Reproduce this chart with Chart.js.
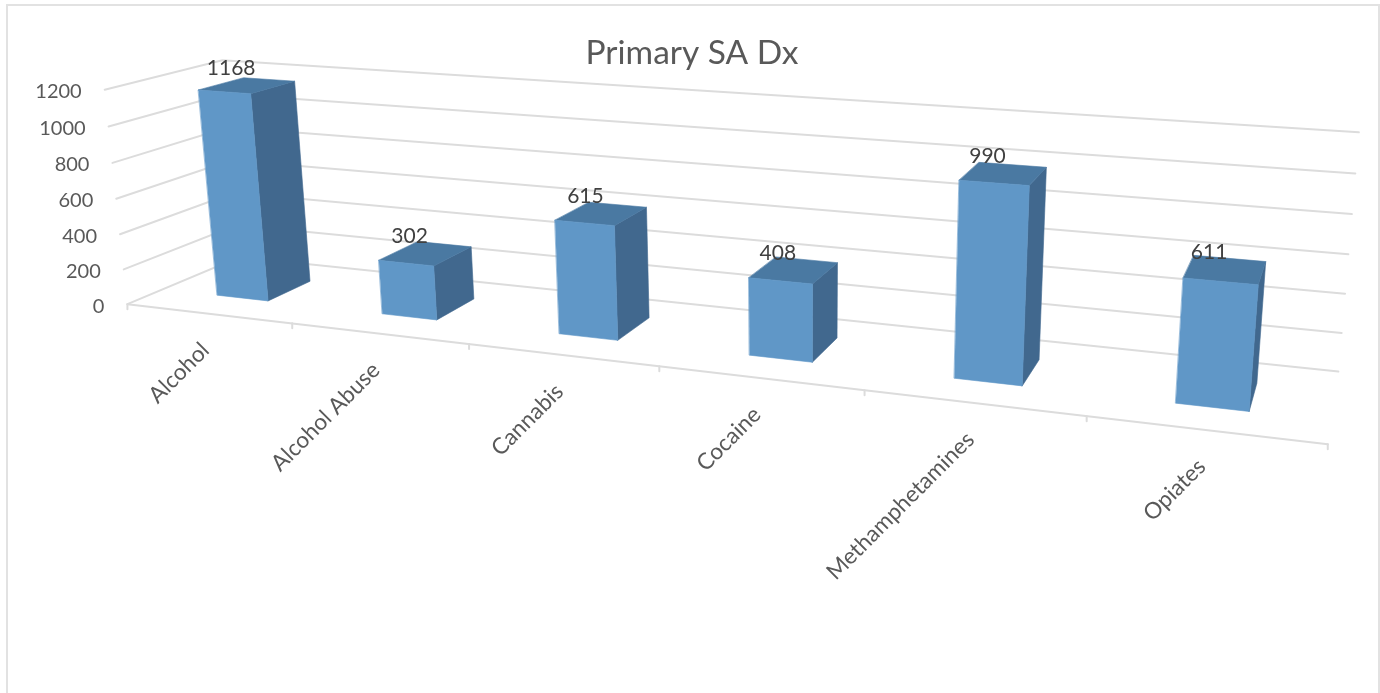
<!DOCTYPE html>
<html>
<head>
<meta charset="utf-8">
<title>Primary SA Dx</title>
<script src="https://cdn.jsdelivr.net/npm/chart.js@4"></script>
<style>
  html, body { margin: 0; background: #fff; overflow: hidden; }
  #frame { position: absolute; left: 6px; top: 4px; width: 1370px; height: 700px; border: 2px solid #e2e2e2; }
  #wrap { position: absolute; left: 0; top: 0; width: 1380px; height: 693px; }
</style>
</head>
<body>
<div id="frame"></div>
<div id="wrap"><canvas id="myChart" width="1380" height="693"></canvas></div>
<script>
const categories = ["Alcohol", "Alcohol Abuse", "Cannabis", "Cocaine", "Methamphetamines", "Opiates"];
const primaryValues = [1168, 302, 615, 408, 990, 611];
const axisMax = 1200;
const axisStep = 200;

// box corners of the 3D plot: [across, up, depth] -> picture position
const viewPoints = [
  [[0, 0, 0], [126, 305]],
  [[0, 1, 0], [106, 90]],
  [[0, 0, 1], [241, 256]],
  [[0, 1, 1], [221, 60.5]],
  [[1, 0, 1], [1338, 373]],
  [[1, 1, 1], [1359, 132]],
  [[1, 0, 0], [1328, 443]],
];
const barDepth = [0.3, 0.7];

// least squares fit of a 3x4 camera matrix
function fitCamera(points) {
  const n = 11;
  const A = [];
  for (let i = 0; i < n; i++) A.push(new Array(n + 1).fill(0));
  function addRow(row, rhs) {
    for (let i = 0; i < n; i++) {
      for (let j = 0; j < n; j++) A[i][j] += row[i] * row[j];
      A[i][n] += row[i] * rhs;
    }
  }
  points.forEach(([w, p]) => {
    const [u, v, d] = w;
    addRow([u, v, d, 1, 0, 0, 0, 0, -p[0] * u, -p[0] * v, -p[0] * d], p[0]);
    addRow([0, 0, 0, 0, u, v, d, 1, -p[1] * u, -p[1] * v, -p[1] * d], p[1]);
  });
  for (let c = 0; c < n; c++) {
    let best = c;
    for (let r = c + 1; r < n; r++) if (Math.abs(A[r][c]) > Math.abs(A[best][c])) best = r;
    [A[c], A[best]] = [A[best], A[c]];
    for (let r = 0; r < n; r++) {
      if (r === c) continue;
      const f = A[r][c] / A[c][c];
      for (let k = c; k <= n; k++) A[r][k] -= f * A[c][k];
    }
  }
  return A.map((row, i) => row[n] / row[i]);
}

const cam = fitCamera(viewPoints);
function project(u, v, d) {
  const h = cam[8] * u + cam[9] * v + cam[10] * d + 1;
  return {
    x: (cam[0] * u + cam[1] * v + cam[2] * d + cam[3]) / h,
    y: (cam[4] * u + cam[5] * v + cam[6] * d + cam[7]) / h,
  };
}

function face(ctx, pts, color) {
  ctx.beginPath();
  pts.forEach((p, i) => (i ? ctx.lineTo(p.x, p.y) : ctx.moveTo(p.x, p.y)));
  ctx.closePath();
  ctx.fillStyle = color;
  ctx.strokeStyle = color;
  ctx.lineWidth = 0.6;
  ctx.fill();
  ctx.stroke();
}

function polyline(ctx, pts) {
  ctx.beginPath();
  pts.forEach((p, i) => (i ? ctx.lineTo(p.x, p.y) : ctx.moveTo(p.x, p.y)));
  ctx.stroke();
}

const perspectiveBars = {
  id: "perspectiveBars",
  afterDatasetsDraw(chart) {
    const ctx = chart.ctx;
    const area = chart.chartArea;
    const yScale = chart.scales.y;
    const xScale = chart.scales.x;
    const toU = (px) => (px - area.left) / area.width;
    const toV = (py) => (area.bottom - py) / area.height;

    ctx.save();
    // grid on side wall and back wall
    ctx.lineCap = "round";
    yScale.ticks.forEach((t, i) => {
      const v = toV(yScale.getPixelForTick(i));
      ctx.strokeStyle = "#dcdcdc";
      ctx.lineWidth = 2;
      polyline(ctx, [project(0, v, 0), project(0, v, 1), project(1, v, 1)]);
      const end = project(0, v, 0);
      ctx.fillStyle = "#595959";
      ctx.font = "20px Lato";
      ctx.textAlign = "right";
      ctx.textBaseline = "middle";
      ctx.fillText(String(t.value), end.x - 23, end.y + 2);
    });

    // front floor edge and its ticks
    ctx.strokeStyle = "#dcdcdc";
    ctx.lineWidth = 2;
    polyline(ctx, [project(0, 0, 0), project(1, 0, 0)]);
    for (let i = 0; i <= categories.length; i++) {
      const p = project(i / categories.length, 0, 0);
      polyline(ctx, [p, { x: p.x, y: p.y + 5 }]);
    }

    // category labels
    categories.forEach((name, i) => {
      const p = project(toU(xScale.getPixelForTick(i)), 0, 0);
      ctx.save();
      ctx.translate(p.x - 3, p.y + 33);
      ctx.rotate(-Math.PI / 4);
      ctx.fillStyle = "#595959";
      ctx.font = "22.6px Lato";
      ctx.textAlign = "right";
      ctx.textBaseline = "middle";
      ctx.fillText(name, 0, 0);
      ctx.restore();
    });

    // bars, front/top/side faces
    const meta = chart.getDatasetMeta(0);
    meta.data.forEach((bar) => {
      const u0 = toU(bar.x - bar.width / 2);
      const u1 = toU(bar.x + bar.width / 2);
      const v0 = toV(bar.base);
      const v1 = toV(bar.y);
      const [d0, d1] = barDepth;
      face(ctx, [project(u1, v0, d0), project(u1, v0, d1), project(u1, v1, d1), project(u1, v1, d0)], "#41688e");
      face(ctx, [project(u0, v1, d0), project(u1, v1, d0), project(u1, v1, d1), project(u0, v1, d1)], "#4a79a2");
      face(ctx, [project(u0, v0, d0), project(u1, v0, d0), project(u1, v1, d0), project(u0, v1, d0)], "#6097c7");
    });

    // value labels sit over the top face
    meta.data.forEach((bar, i) => {
      const c = project(toU(bar.x), toV(bar.y), (barDepth[0] + barDepth[1]) / 2);
      ctx.fillStyle = "#404040";
      ctx.font = "21px Lato";
      ctx.textAlign = "center";
      ctx.textBaseline = "middle";
      ctx.fillText(String(primaryValues[i]), c.x - 16, c.y - 17);
    });
    ctx.restore();
  },
};

const ctx = document.getElementById("myChart").getContext("2d");
new Chart(ctx, {
  type: "bar",
  data: {
    labels: categories,
    datasets: [
      {
        label: "Primary SA Dx",
        data: primaryValues,
        backgroundColor: "rgba(0,0,0,0)",
        borderWidth: 0,
        barPercentage: 0.315,
        categoryPercentage: 1,
      },
    ],
  },
  options: {
    responsive: false,
    animation: false,
    layout: { padding: { left: 4, right: 0, top: 0, bottom: 0 } },
    plugins: {
      legend: { display: false },
      tooltip: { enabled: false },
      title: {
        display: true,
        text: "Primary SA Dx",
        color: "#595959",
        font: { family: "Lato", size: 33.5, weight: "normal" },
        padding: { top: 33, bottom: 10 },
      },
    },
    scales: {
      x: { grid: { display: false }, border: { display: false }, ticks: { display: false } },
      y: {
        min: 0,
        max: axisMax,
        grid: { display: false },
        border: { display: false },
        ticks: { display: false, stepSize: axisStep },
      },
    },
  },
  plugins: [perspectiveBars],
});
</script>
</body>
</html>
